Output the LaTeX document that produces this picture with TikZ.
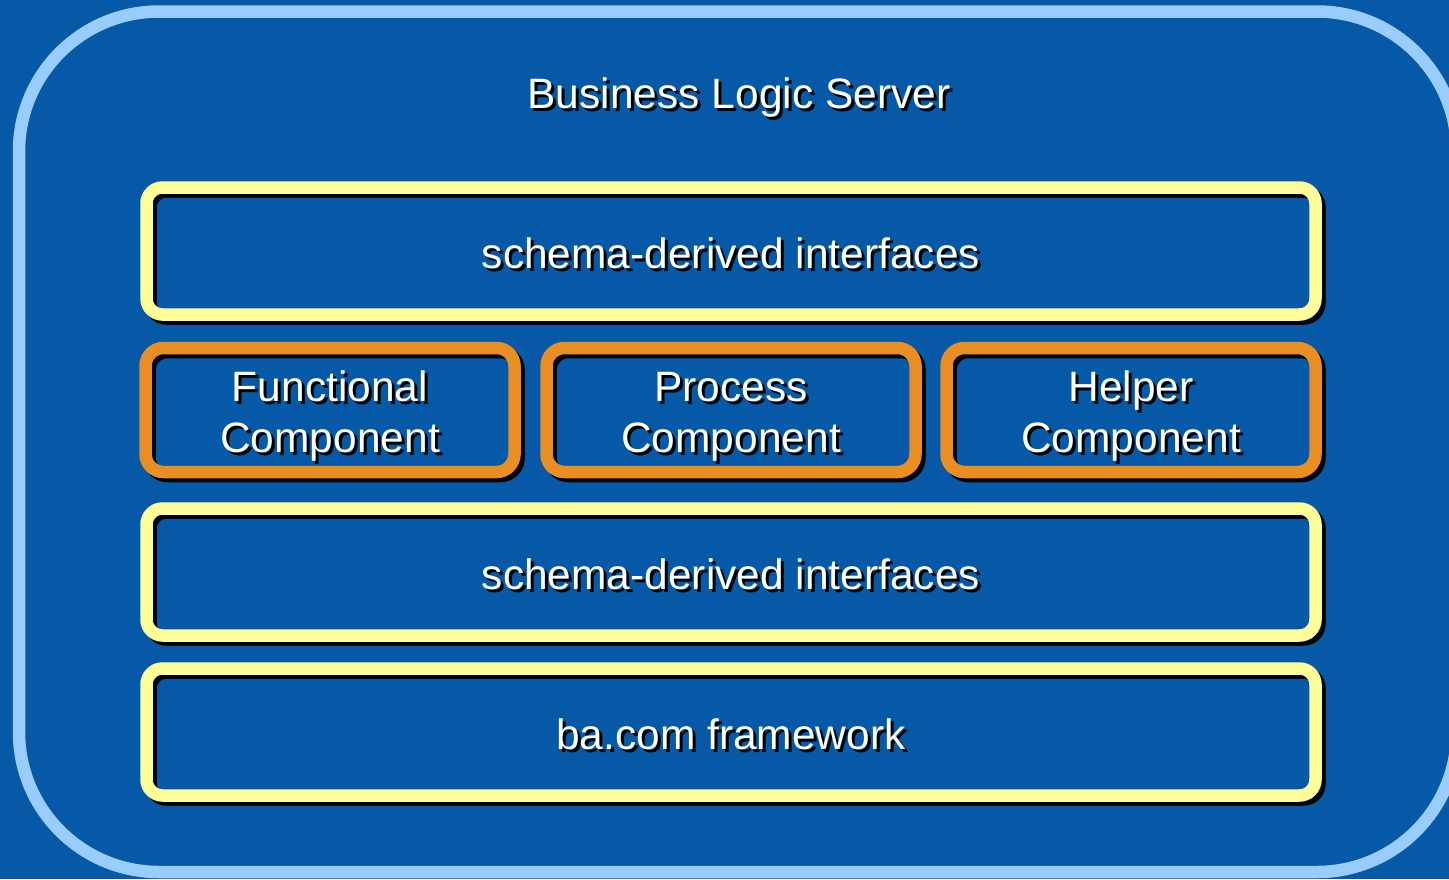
\documentclass[tikz,border=0pt]{standalone}
\usepackage{fontspec}
\setmainfont{Liberation Sans}
\definecolor{bgblue}{RGB}{5,89,167}
\definecolor{lightblue}{RGB}{153,204,255}
\definecolor{paleyellow}{RGB}{255,255,153}
\definecolor{orangeb}{RGB}{232,142,34}
\newcommand\shd[1]{\rlap{\kern3pt\raisebox{-3pt}{\textcolor{black}{#1}}}#1}
\begin{document}
\begin{tikzpicture}[x=1pt,y=-1pt,
  lbl/.style={text=white, font=\fontsize{42.5}{51}\selectfont, align=center, inner sep=0pt},
  boxbase/.style={rounded corners=16pt, line width=12.5pt,
     preaction={draw=black, transform canvas={shift={(4,4)}}}},
  ybox/.style={boxbase, draw=paleyellow, minimum width=1169pt, minimum height=127pt},
  obox/.style={boxbase, draw=orangeb, rounded corners=18pt, minimum width=369pt, minimum height=124pt}
]
\useasboundingbox (0,0) rectangle (1449,879);
\clip (0,0) rectangle (1449,879);
\fill[bgblue] (0,0) rectangle (1449,879);
% outer server frame
\draw[lightblue, line width=12.5pt, rounded corners=140pt,
      preaction={draw=black, transform canvas={shift={(3,3)}}}]
      (19,11.5) rectangle (1457,872);
\node[lbl] (title) at (739,99) {\shd{Business Logic Server}};
\node[ybox] (top) at (731,251) {};
\node[obox] (func) at (330,410) {};
\node[obox] (proc) at (731,410) {};
\node[obox] (help) at (1131,410) {};
\node[ybox] (bot) at (731,572) {};
\node[ybox] (frame) at (731,732) {};
\node[lbl] (toptxt) at ([yshift=-4pt]top.center) {\shd{schema-derived interfaces}};
\node[lbl] (functxt) at ([yshift=-8pt]func.center) {\shd{Functional}\\\shd{Component}};
\node[lbl] (proctxt) at ([yshift=-8pt]proc.center) {\shd{Process}\\\shd{Component}};
\node[lbl] (helptxt) at ([yshift=-8pt]help.center) {\shd{Helper}\\\shd{Component}};
\node[lbl] (bottxt) at ([yshift=-4pt]bot.center) {\shd{schema-derived interfaces}};
\node[lbl] (frametxt) at ([yshift=-4pt]frame.center) {\shd{ba.com framework}};
\end{tikzpicture}
\end{document}
